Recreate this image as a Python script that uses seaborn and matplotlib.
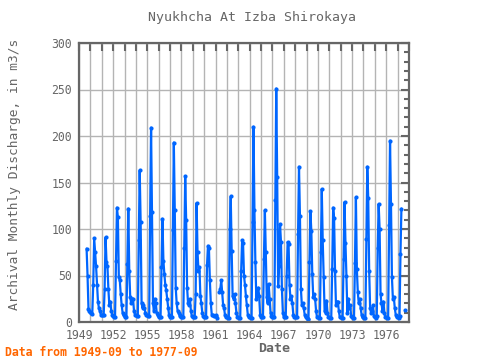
import numpy as np
import pandas as pd
import matplotlib
matplotlib.use('Agg')
import matplotlib.pyplot as plt
from matplotlib.ticker import MultipleLocator, FuncFormatter
import seaborn as sns

# Monthly values, first month is 1949-09
start_month = '1949-09'
flow_1949_1959 = [
    79, 50, 14, 12,
    11, 10, 9, 40, 90, 75, 60, 40, 22, 15, 12, 8,
    7, 7, 7, 35, 91, 65, 60, 35, 18, 22, 12, 8,
    6, 5, 5, 66, 123, 113, 48, 45, 30, 18, 10, 7,
    6, 5, 5, 62, 122, 55, 27, 20, 25, 25, 12, 8,
    7, 6, 6, 88, 163, 107, 20, 15, 18, 15, 10, 7,
    7, 6, 6, 114, 209, 118, 20, 12, 25, 20, 10, 7,
    5, 5, 5, 59, 111, 66, 52, 40, 34, 25, 15, 7,
    5, 5, 5, 99, 193, 120, 37, 20, 12, 10, 8, 6,
    5, 5, 5, 80, 157, 110, 37, 20, 18, 25, 12, 6,
    5, 5, 5, 30, 128, 75, 55, 59, 28, 20, 10, 6,
]
flow_1960_1969 = [
    5, 5, 5, 61, 82, 80, 45, 20, 8, 7, 6, 6,
    7, 6, 4, np.nan, 32, 35, 45, 32, 18, 15, 7, 5,
    5, 4, 4, 100, 135, 76, 28, 25, 30, 20, 10, 5,
    5, 4, 4, 55, 88, 85, 50, 40, 28, 18, 8, 5,
    5, 4, 4, 108, 210, 120, 64, 25, 35, 37, 28, 8,
    5, 5, 5, 68, 120, 75, 27, 20, 41, 25, 10, 6,
    5, 5, 5, 131, 251, 156, 39, 60, 105, 86, 35, 10,
    5, 5, 5, 50, 86, 84, 40, 25, 28, 20, 8, 5,
    5, 5, 5, 95, 167, 114, 36, 18, 20, 15, 8, 5,
    4, 3, 3, 64, 119, 98, 52, 27, 30, 25, 12, 5,
]
flow_1970_1977 = [
    5, 4, 4, 75, 143, 88, 48, 12, 10, 23, 10, 5,
    5, 4, 4, 57, 123, 112, 55, 18, 22, 22, 12, 5,
    5, 4, 4, 68, 129, 85, 50, 10, 25, 15, 18, 6,
    5, 4, 4, 63, 134, 57, 32, 20, 25, 15, 8, 5,
    5, 4, 4, 89, 167, 133, 55, 15, 10, 12, 18, 6,
    5, 4, 6, 80, 127, 100, 30, 20, 12, 22, 10, 5,
    5, 4, 4, 104, 195, 127, 48, 25, 27, 15, 8, 5,
    5, 4, 6, 73, 122, np.nan, np.nan, np.nan, 13,
]
y_ticks = [0, 50, 100, 150, 200, 250, 300]
x_label_years = list(range(1949, 1977, 3))

values = flow_1949_1959 + flow_1960_1969 + flow_1970_1977
dates = pd.date_range(start_month, periods=len(values), freq='MS')
df = pd.DataFrame({'t': dates.year + (dates.month - 1) / 12.0, 'v': values})
# break the line where months are missing
df['seg'] = df['v'].isna().cumsum()
df = df.dropna()

sns.set_style('white')
plt.rcParams['font.family'] = ['DejaVu Sans Mono', 'DejaVu Sans']
grey = '#666666'

fig = plt.figure(figsize=(4.8, 3.6), dpi=100)
ax = fig.add_axes([79 / 480, 1 - 322 / 360, 330 / 480, 279 / 360])

sns.lineplot(data=df, x='t', y='v', units='seg', estimator=None, ax=ax,
             color='#0066ff', lw=1.6, marker='o', markersize=3,
             markeredgewidth=0, legend=False)

ax.set_xlim(1949, 1978)
ax.set_ylim(0, 300)
ax.xaxis.set_major_locator(MultipleLocator(1))
ax.xaxis.set_major_formatter(FuncFormatter(
    lambda v, p: str(int(round(v))) if int(round(v)) in x_label_years else ''))
ax.set_yticks(y_ticks)
ax.yaxis.set_minor_locator(MultipleLocator(10))

ax.grid(True, which='major', color='#b4b4b4', lw=1, ls='-')
ax.set_axisbelow(True)
for s in ax.spines.values():
    s.set_color(grey)
    s.set_linewidth(1.6)
ax.tick_params(which='both', direction='in', top=True, right=True,
               color=grey, labelcolor=grey, labelsize=8.3, width=1.5)
ax.tick_params(which='major', length=6, pad=5)
ax.tick_params(which='minor', length=3.5)
ax.set_xlabel('')
ax.set_ylabel('')

fig.text(252 / 480, 1 - 18 / 360, 'Nyukhcha At Izba Shirokaya', ha='center',
         va='center', color=grey, fontsize=9.5)
fig.text(274 / 480, 1 - 348 / 360, 'Date', ha='center', va='center',
         color=grey, fontsize=9.5, fontweight='bold')
fig.text(15 / 480, 1 - 310 / 360, 'Archival Monthly Discharge, in m3/s',
         rotation=90, ha='center', va='bottom', color=grey, fontsize=9.3)
fig.text(5 / 480, 1 - 352 / 360, 'Data from 1949-09 to 1977-09', ha='left',
         va='center', color='#ff6600', fontsize=8.3, fontweight='bold')

fig.savefig('out.png', dpi=100)
